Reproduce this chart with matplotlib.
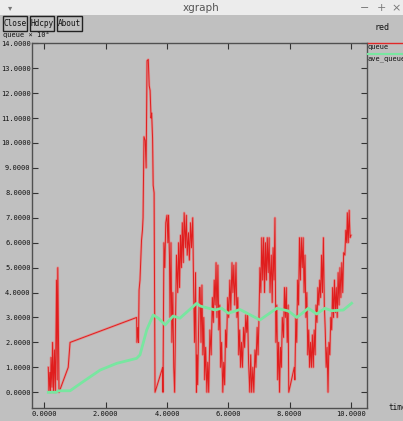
import numpy as np
import matplotlib
matplotlib.use('Agg')
import matplotlib.pyplot as plt

### data (queue in units of 10^?)
queue_t = [0.13, 0.15, 0.18, 0.20, 0.22, 0.25, 0.27, 0.30, 0.33, 0.36, 0.40, 0.42, 0.44, 0.46, 0.48,
           0.78, 0.84, 3.01, 3.02, 3.05, 3.07, 3.09, 3.12, 3.17, 3.20, 3.22, 3.25, 3.29, 3.32, 3.35,
           3.39, 3.42, 3.45, 3.48, 3.50, 3.53, 3.55, 3.58, 3.61,
           3.86, 3.87, 3.90, 3.93, 3.96, 4.00, 4.03, 4.05, 4.08, 4.10, 4.13, 4.16, 4.19, 4.22, 4.25,
           4.28, 4.31, 4.35, 4.38, 4.41, 4.44, 4.47, 4.50, 4.53, 4.56, 4.60, 4.63, 4.66, 4.70, 4.73,
           4.77, 4.80, 4.84, 4.87, 4.90, 4.93, 4.96, 4.98, 5.00, 5.03, 5.06,
           5.08, 5.11, 5.14, 5.17, 5.20, 5.23, 5.26, 5.30, 5.33, 5.36, 5.40, 5.44, 5.48, 5.51, 5.54,
           5.57, 5.60, 5.63, 5.66, 5.69, 5.72, 5.75, 5.78, 5.82, 5.85, 5.88, 5.91, 5.94, 5.98, 6.01,
           6.05, 6.08, 6.12, 6.15, 6.18, 6.21, 6.25, 6.28, 6.31, 6.34, 6.37, 6.40, 6.43, 6.46, 6.50,
           6.53, 6.57, 6.60, 6.63, 6.66, 6.70, 6.73, 6.76, 6.80, 6.83, 6.87, 6.90, 6.94, 6.97, 7.00,
           7.03, 7.06, 7.09, 7.12, 7.15, 7.18, 7.21, 7.24, 7.27, 7.30, 7.33, 7.36, 7.40, 7.43, 7.46,
           7.49, 7.52, 7.55, 7.58, 7.61, 7.64, 7.67, 7.70, 7.73, 7.76, 7.80, 7.83, 7.86, 7.89, 7.92,
           7.95, 7.97, 8.15, 8.17, 8.20, 8.23, 8.26, 8.29, 8.32, 8.35, 8.38, 8.41, 8.44, 8.47, 8.50,
           8.53, 8.56, 8.59, 8.62, 8.65, 8.68, 8.71, 8.74, 8.77, 8.80, 8.83, 8.86, 8.89, 8.92, 8.95,
           8.98, 9.01, 9.04, 9.07, 9.10, 9.13, 9.16, 9.19, 9.22, 9.25, 9.28, 9.31, 9.34, 9.37, 9.40,
           9.43, 9.46, 9.49, 9.52, 9.55, 9.58, 9.61, 9.64, 9.67, 9.70, 9.73, 9.76, 9.80, 9.83, 9.86,
           9.88, 9.91, 9.94, 9.97, 10.00]
queue_v = [1.0, 0.0, 0.8, 0.0, 1.4, 0.2, 2.0, 0.0, 1.7, 0.0, 4.5, 0.5, 5.0, 2.5, 0.0,
           1.0, 2.0, 3.0, 2.0, 2.6, 2.0, 4.1, 4.5, 6.1, 6.5, 7.0, 10.25, 10.1, 9.0, 13.3,
           13.35, 12.3, 12.1, 11.0, 11.2, 10.2, 8.3, 8.0, 0.0,
           1.0, 0.0, 6.0, 5.0, 6.8, 7.1, 6.0, 7.1, 5.5, 3.0, 6.0, 2.0, 4.0, 1.0, 0.0,
           3.0, 5.5, 4.0, 6.0, 4.2, 6.3, 5.0, 6.8, 5.2, 7.2, 5.8, 7.1, 5.5, 6.4, 5.3,
           6.8, 5.8, 7.0, 4.0, 2.0, 4.8, 0.0, 1.5, 0.3, 2.5, 4.2,
           4.2, 2.0, 4.3, 1.5, 3.0, 0.5, 1.8, 0.0, 1.2, 0.0, 2.5, 1.5, 3.8, 2.8, 4.5,
           3.5, 5.2, 3.0, 5.1, 2.5, 3.5, 1.0, 2.0, 0.0, 1.2, 0.3, 2.5, 1.8, 3.8, 3.0,
           4.5, 3.3, 5.2, 4.0, 5.1, 3.5, 5.2, 3.0, 3.8, 1.5, 2.5, 1.0, 2.0, 1.0, 2.6,
           1.8, 3.1, 2.4, 3.1, 1.2, 0.0, 1.5, 0.0, 1.0, 0.0, 1.7, 1.0, 2.6, 1.5, 3.0,
           5.0, 4.0, 6.2, 4.5, 6.2, 4.0, 6.0, 4.5, 6.2, 4.8, 6.2, 4.0, 5.5, 3.6, 5.8,
           4.5, 7.0, 2.0, 3.5, 0.5, 2.0, 0.0, 1.8, 1.0, 3.0, 2.2, 4.2, 3.0, 4.2, 2.0,
           3.5, 0.0, 1.0, 0.5, 3.0, 2.0, 4.5, 3.5, 6.2, 4.5, 6.2, 5.0, 6.2, 4.0, 5.5,
           3.0, 4.0, 1.5, 2.5, 1.0, 2.0, 1.0, 2.3, 1.0, 2.5, 1.5, 3.5, 2.8, 4.2, 3.5,
           4.5, 3.8, 5.5, 4.0, 6.2, 3.5, 2.5, 1.0, 1.8, 0.0, 2.0, 1.5, 3.0, 2.5, 4.2,
           3.0, 4.5, 3.2, 4.2, 3.0, 4.8, 3.5, 5.0, 3.8, 5.2, 4.0, 5.6, 5.5, 6.5, 6.0,
           7.2, 6.0, 7.3, 6.2, 6.3]

ave_t = [0.13, 0.40, 0.45, 0.84, 1.27, 1.82, 2.36, 3.01, 3.12, 3.34, 3.55, 3.72, 3.94, 4.20,
         4.42, 4.97, 5.08, 5.57, 5.78, 6.00, 6.38, 7.03, 7.58, 7.96, 8.23, 8.61, 8.88, 9.15,
         9.37, 9.75, 10.02]
ave_v = [0.0, 0.0, 0.06, 0.06, 0.43, 0.89, 1.16, 1.36, 1.50, 2.50, 3.10, 2.97, 2.70, 3.06,
         2.97, 3.57, 3.46, 3.30, 3.37, 3.17, 3.32, 2.90, 3.37, 3.26, 3.00, 3.37, 3.14, 3.37,
         3.27, 3.30, 3.57]

xticks = [0, 2, 4, 6, 8, 10]
yticks = list(range(0, 15))

W, H = 403., 421.
bg = '#c0c0c0'
mono = 'DejaVu Sans Mono'

fig = plt.figure(figsize=(W / 100., H / 100.), dpi=100)
fig.patch.set_facecolor(bg)

### window title bar
fig.patches.append(plt.Rectangle((0, 1 - 15 / H), 1, 15 / H, transform=fig.transFigure,
                                 facecolor='#ececec', edgecolor='none'))
fig.text(201 / W, 1 - 8 / H, 'xgraph', ha='center', va='center', fontsize=7.5, color='#555555')
fig.text(10 / W, 1 - 8 / H, '\u25be', ha='center', va='center', fontsize=6, color='#777777')
for xx, s in [(365, '\u2212'), (381, '+'), (396, '\u00d7')]:
    fig.text(xx / W, 1 - 8 / H, s, ha='center', va='center', fontsize=8, color='#777777')

### buttons
for x0, x1, s in [(3, 27, 'Close'), (30, 54, 'Hdcpy'), (57, 82, 'About')]:
    fig.patches.append(plt.Rectangle((x0 / W, 1 - 31 / H), (x1 - x0) / W, 15 / H,
                                     transform=fig.transFigure, facecolor=bg,
                                     edgecolor='#222222', linewidth=1.0))
    fig.text((x0 + x1) / 2. / W, 1 - 23.5 / H, s, ha='center', va='center',
             fontsize=5.6, family=mono, color='#111111')

fig.text(375 / W, 1 - 27 / H, 'red', ha='left', va='center', fontsize=6, family=mono, color='#111111')
fig.text(3 / W, 1 - 34 / H, 'queue \u00d7 10\u2074', ha='left', va='center', fontsize=5.0,
         family=mono, color='#111111')
fig.text(388 / W, 1 - 408 / H, 'time', ha='left', va='center', fontsize=5.5, family=mono, color='#111111')

### plot area
ax = fig.add_axes([32 / W, 13 / H, 334.5 / W, 365 / H])
ax.set_facecolor(bg)
ax.plot(queue_t, queue_v, color='#e88080', linewidth=1.8, alpha=0.7)
ax.plot(queue_t, queue_v, color='#e01e1e', linewidth=0.7)
ax.plot(ave_t, ave_v, color='#78e6a0', linewidth=2.0)

ax.set_xlim(-0.401, 10.505)
ax.set_ylim(-0.631, 14.01)
ax.set_xticks(xticks)
ax.set_xticklabels(['%.4f' % v for v in xticks], family=mono, fontsize=5.0)
ax.set_yticks(yticks)
ax.set_yticklabels(['%.4f' % v for v in yticks], family=mono, fontsize=5.0)
ax.tick_params(axis='both', colors='#333333', labelcolor='#111111', width=0.8)
ax.tick_params(axis='x', direction='in', top=True, length=4, pad=2)
ax.tick_params(axis='y', direction='in', right=True, length=4, pad=1)
for s in ax.spines.values():
    s.set_color('#505050')
    s.set_linewidth(1.0)
### zero tick drawn white like xgraph
t0 = ax.xaxis.get_major_ticks()[0]
t0.tick1line.set_color('white')
t0.tick2line.set_color('white')

### legend at the right of the plot
fig.add_artist(plt.Line2D([368 / W, 1], [1 - 42.5 / H, 1 - 42.5 / H], color='#e02828', linewidth=1.0))
fig.text(368 / W, 1 - 47 / H, 'queue', ha='left', va='center', fontsize=5.0, family=mono, color='#111111')
fig.add_artist(plt.Line2D([368 / W, 1], [1 - 54 / H, 1 - 54 / H], color='#78e6a0', linewidth=1.5))
fig.text(368 / W, 1 - 58.5 / H, 'ave_queue', ha='left', va='center', fontsize=5.0, family=mono, color='#111111')

plt.savefig('out.png', dpi=100, facecolor=fig.get_facecolor())
